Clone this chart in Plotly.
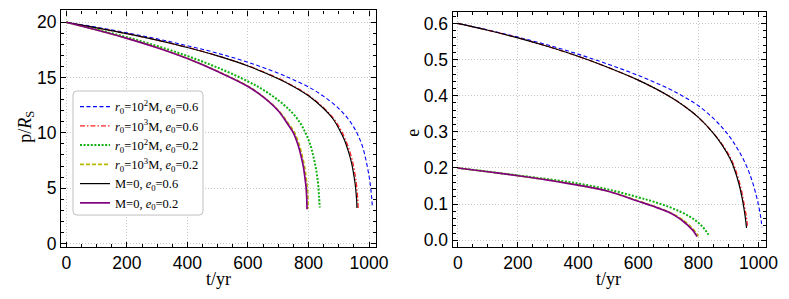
import plotly.graph_objects as go

# ---------------- data ----------------
names = [
    "<i>r</i><sub>0</sub>=10<sup>2</sup>M, <i>e</i><sub>0</sub>=0.6",
    "<i>r</i><sub>0</sub>=10<sup>3</sup>M, <i>e</i><sub>0</sub>=0.6",
    "<i>r</i><sub>0</sub>=10<sup>2</sup>M, <i>e</i><sub>0</sub>=0.2",
    "<i>r</i><sub>0</sub>=10<sup>3</sup>M, <i>e</i><sub>0</sub>=0.2",
    "M=0, <i>e</i><sub>0</sub>=0.6",
    "M=0, <i>e</i><sub>0</sub>=0.2",
]

# left panel: p / R_S versus t
t_p_blue = [0, 100, 200, 300, 400, 500, 600, 700, 750, 800, 850, 900, 930, 950, 965, 978, 988, 996, 1002, 1006, 1009, 1011]
p_blue = [20, 19.55, 19.05, 18.5, 17.88, 17.2, 16.38, 15.4, 14.8, 14.15, 13.3, 12.2, 11.3, 10.5, 9.7, 8.8, 7.75, 6.7, 5.75, 4.9, 4.0, 3.3]

t_p_red = [0, 100, 200, 300, 400, 500, 600, 700, 750, 800, 850, 882, 903, 921, 936, 946, 953, 958, 961, 963, 964]
p_red = [20, 19.5, 18.97, 18.39, 17.73, 16.97, 16.07, 14.93, 14.23, 13.4, 12.27, 11.32, 10.45, 9.45, 8.35, 7.35, 6.35, 5.45, 4.6, 3.9, 3.2]

t_p_green = [0, 100, 200, 300, 400, 500, 600, 650, 700, 740, 770, 790, 805, 815, 823, 829, 833, 835, 837]
p_green = [20, 19.35, 18.65, 17.85, 16.95, 15.9, 14.65, 13.9, 12.95, 12.0, 11.0, 10.0, 9.0, 8.0, 7.0, 6.0, 5.0, 4.2, 3.25]

t_p_yellow = [0, 100, 200, 300, 400, 500, 600, 650, 700, 733, 754, 769, 779, 787, 792, 796, 798, 799]
p_yellow = [20, 19.31, 18.56, 17.72, 16.74, 15.57, 14.23, 13.28, 12.05, 10.88, 10.02, 8.97, 7.97, 6.97, 6.02, 5.12, 4.22, 3.15]

t_p_black = [0, 100, 200, 300, 400, 500, 600, 700, 750, 800, 850, 880, 900, 918, 932, 942, 949, 954, 957, 959, 960]
p_black = [20, 19.5, 18.97, 18.38, 17.72, 16.96, 16.05, 14.9, 14.2, 13.35, 12.2, 11.3, 10.4, 9.4, 8.3, 7.3, 6.3, 5.4, 4.6, 3.9, 3.2]

t_p_purple = [0, 100, 200, 300, 400, 500, 600, 650, 700, 730, 750, 765, 775, 783, 788, 792, 794, 795]
p_purple = [20, 19.3, 18.55, 17.7, 16.72, 15.55, 14.2, 13.25, 12.0, 10.85, 10.0, 8.95, 7.95, 6.95, 6.0, 5.1, 4.2, 3.1]

# right panel: e versus t
t_e_blue = [0, 100, 200, 300, 400, 500, 600, 700, 750, 800, 850, 885, 915, 943, 965, 980, 992, 1000, 1006, 1009, 1011]
e_blue = [0.6, 0.582, 0.562, 0.540, 0.515, 0.487, 0.456, 0.420, 0.398, 0.372, 0.337, 0.306, 0.273, 0.234, 0.195, 0.16, 0.125, 0.096, 0.07, 0.052, 0.036]

t_e_red = [0, 100, 200, 300, 400, 500, 600, 700, 750, 800, 850, 882, 908, 923, 938, 948, 954, 959, 962, 964]
e_red = [0.6, 0.581, 0.560, 0.536, 0.509, 0.478, 0.443, 0.400, 0.373, 0.340, 0.296, 0.262, 0.226, 0.196, 0.155, 0.118, 0.090, 0.068, 0.048, 0.034]

t_e_green = [0, 100, 200, 300, 400, 500, 600, 650, 700, 740, 770, 790, 805, 815, 823, 829, 833, 836]
e_green = [0.2, 0.19, 0.1795, 0.169, 0.157, 0.1405, 0.119, 0.107, 0.093, 0.079, 0.066, 0.055, 0.045, 0.036, 0.028, 0.021, 0.016, 0.012]

t_e_yellow = [0, 100, 200, 300, 400, 500, 600, 650, 700, 733, 754, 769, 779, 787, 792, 796, 798, 799]
e_yellow = [0.2, 0.1897, 0.1787, 0.1667, 0.1527, 0.1357, 0.109, 0.095, 0.079, 0.065, 0.053, 0.042, 0.034, 0.027, 0.021, 0.016, 0.013, 0.011]

t_e_black = [0, 100, 200, 300, 400, 500, 600, 700, 750, 800, 850, 880, 905, 920, 935, 945, 951, 955, 958, 960]
e_black = [0.6, 0.581, 0.560, 0.536, 0.509, 0.478, 0.443, 0.400, 0.373, 0.340, 0.296, 0.262, 0.226, 0.196, 0.155, 0.118, 0.090, 0.068, 0.048, 0.034]

t_e_purple = [0, 100, 200, 300, 400, 500, 600, 650, 700, 730, 750, 765, 775, 783, 788, 792, 794, 795]
e_purple = [0.2, 0.1895, 0.1785, 0.1665, 0.1525, 0.1355, 0.108, 0.094, 0.078, 0.064, 0.052, 0.041, 0.033, 0.026, 0.020, 0.015, 0.012, 0.010]

# ---------------- styling ----------------
styles = [
    dict(color="#0000ff", dash="4px,2.5px", width=1.1),
    dict(color="#ff2020", dash="5px,2px,1.5px,2px", width=1.3),
    dict(color="#10b010", dash="2px,1.6px", width=2.0),
    dict(color="#b8b800", dash="4px,2px", width=1.6),
    dict(color="#000000", dash="solid", width=1.2),
    dict(color="#800080", dash="solid", width=1.7),
]

left_data = [(t_p_blue, p_blue), (t_p_red, p_red), (t_p_green, p_green),
             (t_p_yellow, p_yellow), (t_p_black, p_black), (t_p_purple, p_purple)]
right_data = [(t_e_blue, e_blue), (t_e_red, e_red), (t_e_green, e_green),
              (t_e_yellow, e_yellow), (t_e_black, e_black), (t_e_purple, e_purple)]

fig = go.Figure()
for i, (tx, ty) in enumerate(left_data):
    fig.add_trace(go.Scatter(x=tx, y=ty, mode="lines", name=names[i], line=styles[i],
                             line_shape="spline", xaxis="x", yaxis="y", showlegend=True))
for i, (tx, ty) in enumerate(right_data):
    fig.add_trace(go.Scatter(x=tx, y=ty, mode="lines", name=names[i], line=styles[i],
                             line_shape="spline", xaxis="x2", yaxis="y2", showlegend=False))

W, H = 789, 299
tickfont = dict(family="Liberation Sans, Arial", size=17.5, color="black")
common = dict(showline=True, linecolor="black", linewidth=1.3, mirror="allticks",
              ticks="inside", ticklen=5, tickwidth=1, tickcolor="black",
              showgrid=True, gridcolor="#c4c4c4", griddash="1px,2px", gridwidth=1,
              zeroline=False, tickfont=tickfont)

xr = [-17, 1024]
fig.update_layout(
    width=W, height=H, margin=dict(l=0, r=0, t=0, b=0),
    paper_bgcolor="white", plot_bgcolor="white",
    xaxis=dict(domain=[54 / W, 374 / W], range=xr, anchor="y",
               tickvals=[0, 200, 400, 600, 800, 1000],
               minor=dict(dtick=50, ticks="inside", ticklen=3, tickcolor="black", showgrid=False),
               **common),
    yaxis=dict(domain=[1 - 244.5 / H, 1 - 2.5 / H], range=[-0.3, 21.07], anchor="x",
               tickvals=[0, 5, 10, 15, 20],
               minor=dict(dtick=1, ticks="inside", ticklen=3, tickcolor="black", showgrid=False),
               **common),
    xaxis2=dict(domain=[451.5 / W, 769.5 / W], range=xr, anchor="y2",
                tickvals=[0, 200, 400, 600, 800, 1000],
                minor=dict(dtick=50, ticks="inside", ticklen=3, tickcolor="black", showgrid=False),
                **common),
    yaxis2=dict(domain=[1 - 244.5 / H, 1 - 4.3 / H], range=[-0.018, 0.631], anchor="x2",
                tickvals=[0, 0.1, 0.2, 0.3, 0.4, 0.5, 0.6],
                ticktext=["0.0", "0.1", "0.2", "0.3", "0.4", "0.5", "0.6"],
                minor=dict(dtick=0.02, ticks="inside", ticklen=3, tickcolor="black", showgrid=False),
                **common),
    legend=dict(x=68 / W, y=1 - 86 / H, xanchor="left", yanchor="top",
                bgcolor="rgba(0,0,0,0)", borderwidth=0,
                font=dict(family="Liberation Serif, Times New Roman", size=12.5, color="black"),
                itemwidth=30, tracegroupgap=0),
    showlegend=True,
)

# rounded legend frame
x0, x1 = 66 / W, 198 / W
y0, y1 = 1 - 212 / H, 1 - 85 / H
rx, ry = 4 / W, 4 / H
path = (f"M {x0+rx},{y1} L {x1-rx},{y1} Q {x1},{y1} {x1},{y1-ry} "
        f"L {x1},{y0+ry} Q {x1},{y0} {x1-rx},{y0} L {x0+rx},{y0} "
        f"Q {x0},{y0} {x0},{y0+ry} L {x0},{y1-ry} Q {x0},{y1} {x0+rx},{y1} Z")
fig.add_shape(type="path", path=path, xref="paper", yref="paper",
              fillcolor="white", line=dict(color="#c0c0c0", width=1), layer="above")

titlefont = dict(family="Liberation Serif, Times New Roman", size=18, color="black")
ann = dict(xref="paper", yref="paper", showarrow=False, xanchor="center", yanchor="middle", font=titlefont)
fig.add_annotation(text="p/<i>R</i><sub>S</sub>", x=18 / W, y=1 - 122 / H, textangle=-90, **ann)
fig.add_annotation(text="t/yr", x=214 / W, y=1 - 278 / H, **ann)
fig.add_annotation(text="e", x=411 / W, y=1 - 128 / H, textangle=-90, **ann)
fig.add_annotation(text="t/yr", x=610 / W, y=1 - 278 / H, **ann)

fig.write_html("out.html")
